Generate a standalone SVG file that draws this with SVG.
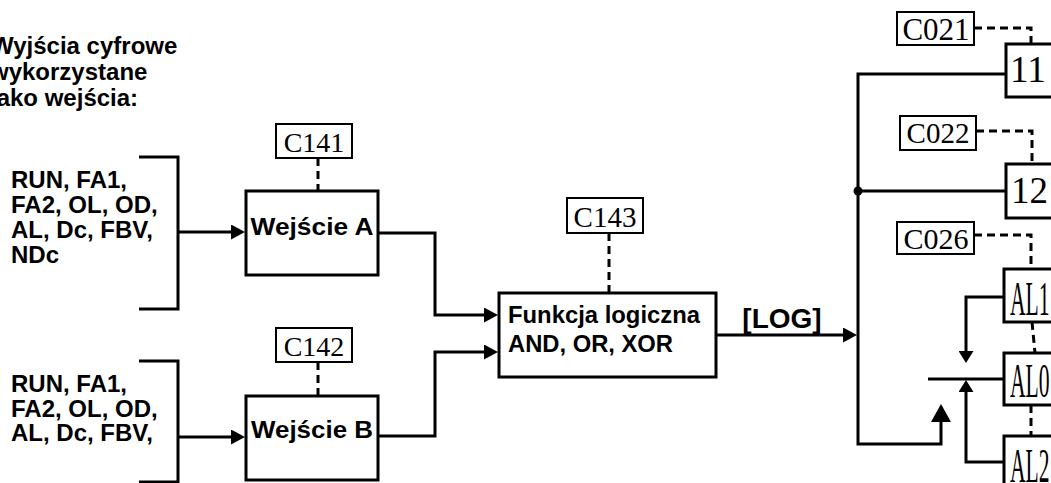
<svg xmlns="http://www.w3.org/2000/svg" width="1051" height="483" viewBox="0 0 1051 483">
<style>
.box{fill:#fff;stroke:#000;stroke-width:3}
.pbox{fill:#fff;stroke:#000;stroke-width:2}
.line{fill:none;stroke:#000;stroke-width:3}
.dash{fill:none;stroke:#000;stroke-width:3;stroke-dasharray:8 5}
.sans{font-family:"Liberation Sans",Arial,sans-serif;font-weight:bold;fill:#000}
.serif{font-family:"Liberation Serif","Times New Roman",serif;fill:#000}
</style>
<defs>
<marker id="arr" markerUnits="userSpaceOnUse" markerWidth="14" markerHeight="15" refX="8" refY="7.5" orient="auto">
<path d="M0,0 L14,7.5 L0,15 z" fill="#000"/>
</marker>
<marker id="arrS" markerUnits="userSpaceOnUse" markerWidth="12" markerHeight="15" refX="6" refY="7.5" orient="auto">
<path d="M0,0 L12,7.5 L0,15 z" fill="#000"/>
</marker>
<marker id="arrL" markerUnits="userSpaceOnUse" markerWidth="18" markerHeight="20" refX="12" refY="10" orient="auto">
<path d="M0,0 L18,10 L0,20 z" fill="#000"/>
</marker>
</defs>
<rect width="1051" height="483" fill="#fff"/>

<g id="title">
<text class="sans" font-size="24" x="-9" y="54">Wyjścia cyfrowe</text>
<text class="sans" font-size="24" x="-10" y="80">wykorzystane</text>
<text class="sans" font-size="24" x="-10" y="106">jako wejścia:</text>
</g>

<g id="inputs-a">
<text class="sans" font-size="24" x="11" y="188">RUN, FA1,</text>
<text class="sans" font-size="24" x="11" y="213">FA2, OL, OD,</text>
<text class="sans" font-size="24" x="11" y="238">AL, Dc, FBV,</text>
<text class="sans" font-size="24" x="11" y="263">NDc</text>
</g>
<g id="inputs-b">
<text class="sans" font-size="24" x="11" y="392">RUN, FA1,</text>
<text class="sans" font-size="24" x="11" y="417">FA2, OL, OD,</text>
<text class="sans" font-size="24" x="11" y="441">AL, Dc, FBV,</text>
</g>

<g id="connectors">
<path class="line" d="M139,157 H178 V309 H139"/>
<path class="line" d="M139,361 H178 V482 H139"/>
<path class="line" d="M178,232 H239" marker-end="url(#arr)"/>
<path class="line" d="M178,437 H239" marker-end="url(#arr)"/>
<path class="line" d="M378,233 H435 V315 H492" marker-end="url(#arr)"/>
<path class="line" d="M378,436 H435 V352 H492" marker-end="url(#arr)"/>
<path class="line" d="M716,335 H851" marker-end="url(#arr)"/>
<path class="line" d="M1006,74 H858 V444 H941 V410" marker-end="url(#arrL)"/>
<path class="line" d="M858,191 H1006"/>
<circle cx="858" cy="191" r="4.5" fill="#000"/>
<path class="line" d="M1004,297 H966 V357" marker-end="url(#arrS)"/>
<path class="line" d="M928,379 H1004"/>
<path class="line" d="M1004,462 H966 V386" marker-end="url(#arrS)"/>
<path class="dash" d="M318,158 V191"/>
<path class="dash" d="M318,362 V396"/>
<path class="dash" d="M609,233 V293"/>
<path class="dash" d="M974,28 H1031 V60"/>
<path class="dash" d="M976,131 H1032 V164"/>
<path class="dash" d="M974,235 H1031 V269"/>
<path class="dash" d="M1032,322 L1035,353"/>
<path class="dash" d="M1031,405 V436"/>
</g>

<g id="node-wejscie-a">
<rect class="box" x="246" y="191" width="132" height="84"/>
<text class="sans" font-size="24" x="312" y="235" text-anchor="middle" textLength="123" lengthAdjust="spacingAndGlyphs">Wejście A</text>
</g>
<g id="node-wejscie-b">
<rect class="box" x="246" y="396" width="132" height="84"/>
<text class="sans" font-size="24" x="312" y="438" text-anchor="middle" textLength="122" lengthAdjust="spacingAndGlyphs">Wejście B</text>
</g>
<g id="node-funkcja">
<rect class="box" x="499" y="293" width="217" height="84"/>
<text class="sans" font-size="23" x="508" y="323" textLength="192" lengthAdjust="spacingAndGlyphs">Funkcja logiczna</text>
<text class="sans" font-size="23" x="508" y="352" textLength="165" lengthAdjust="spacingAndGlyphs">AND, OR, XOR</text>
</g>
<g id="label-log">
<text class="sans" font-size="28" x="782" y="328" text-anchor="middle">[LOG]</text>
</g>

<g id="param-c141">
<rect class="pbox" x="276" y="124" width="76" height="34"/>
<text class="serif" font-size="28" x="314" y="152" text-anchor="middle">C141</text>
</g>
<g id="param-c142">
<rect class="pbox" x="276" y="328" width="76" height="34"/>
<text class="serif" font-size="28" x="314" y="356" text-anchor="middle">C142</text>
</g>
<g id="param-c143">
<rect class="pbox" x="567" y="198" width="76" height="35"/>
<text class="serif" font-size="29" x="605" y="227" text-anchor="middle">C143</text>
</g>
<g id="param-c021">
<rect class="pbox" x="897" y="12" width="77" height="33"/>
<text class="serif" font-size="31" x="936" y="40" text-anchor="middle">C021</text>
</g>
<g id="param-c022">
<rect class="pbox" x="900" y="116" width="76" height="34"/>
<text class="serif" font-size="29" x="938" y="143" text-anchor="middle">C022</text>
</g>
<g id="param-c026">
<rect class="pbox" x="897" y="222" width="77" height="32"/>
<text class="serif" font-size="30" x="936" y="249" text-anchor="middle">C026</text>
</g>

<g id="node-11">
<rect class="box" x="1006" y="44" width="60" height="53"/>
<text class="serif" font-size="37" x="1010" y="82">11</text>
</g>
<g id="node-12">
<rect class="box" x="1006" y="164" width="60" height="54"/>
<text class="serif" font-size="37" x="1011" y="203">12</text>
</g>
<g id="node-al1">
<rect class="box" x="1004" y="269" width="60" height="53"/>
<text class="serif" font-size="48" transform="translate(1010,315) scale(0.45,1)">AL1</text>
</g>
<g id="node-al0">
<rect class="box" x="1004" y="353" width="60" height="52"/>
<text class="serif" font-size="48" transform="translate(1010,397) scale(0.45,1)">AL0</text>
</g>
<g id="node-al2">
<rect class="box" x="1004" y="436" width="60" height="60"/>
<text class="serif" font-size="48" transform="translate(1010,482) scale(0.45,1)">AL2</text>
</g>
</svg>
